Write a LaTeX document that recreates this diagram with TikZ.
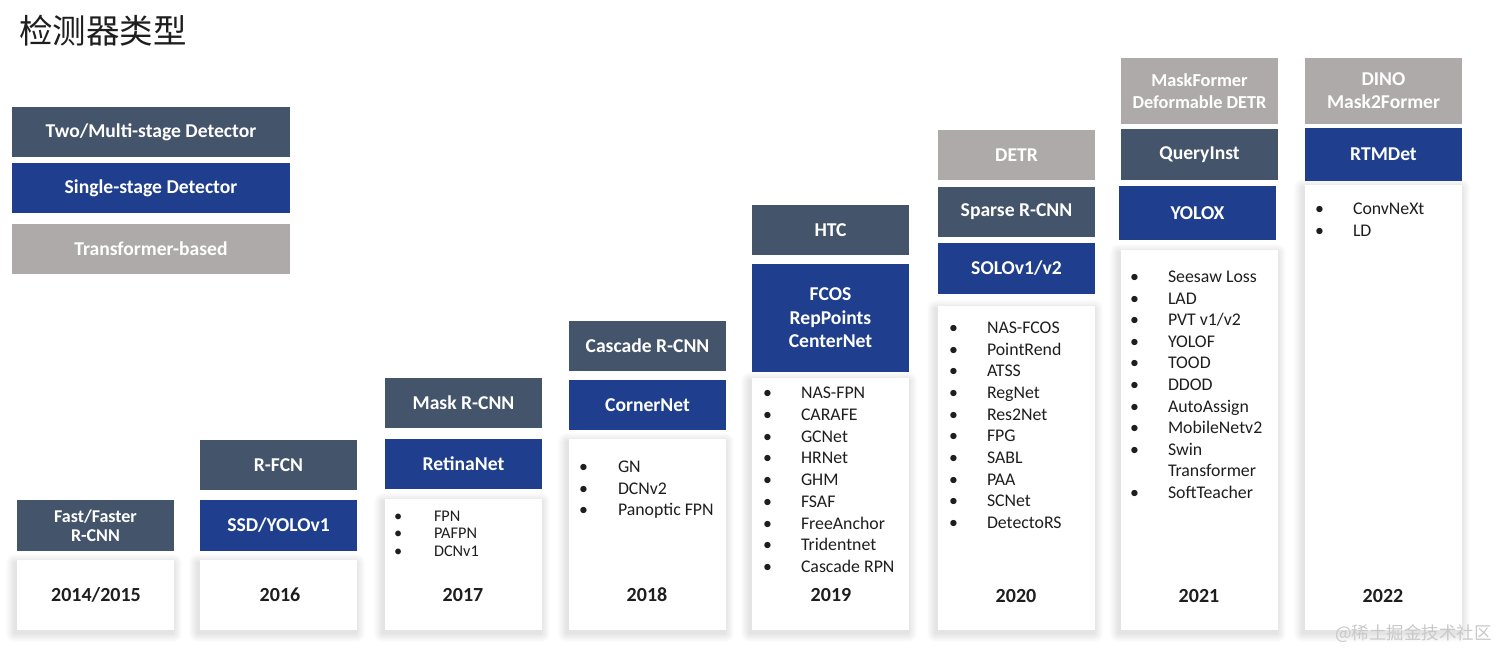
\documentclass[tikz,border=0pt]{standalone}
\usepackage{fontspec}
\setmainfont{Carlito}
\newfontfamily\cjk{Noto Sans CJK SC}
\pgfdeclarelayer{bg}
\pgfsetlayers{bg,main}
\definecolor{cdark}{HTML}{44546A}
\definecolor{cblue}{HTML}{1F3F8E}
\definecolor{cgray}{HTML}{AEAAAA}
\definecolor{cwm}{HTML}{C9C9C9}
\definecolor{ctext}{HTML}{1E1E1E}
\newcommand\mylist[7]{%
  \foreach \b/\t [count=\i] in {#7} {
    \ifnum\b=1 \node[itemtxt,#6] (#1b\i) at (#2, {#4+(\i-1)*#5}) {•};\fi
    \node[itemtxt,#6] (#1t\i) at (#3, {#4+(\i-1)*#5}) {\t};
  }}
\newcommand\mysoftshadow[1]{%
  \begin{pgfonlayer}{bg}
  \foreach \k in {1,...,9} {
    \fill[black, fill opacity=0.011, rounded corners=\k pt]
      ([xshift={-\k pt-2pt}, yshift={\k pt-3pt}]#1.north west) rectangle
      ([xshift={\k pt-1pt}, yshift={-\k pt-3pt}]#1.south east);
  }
  \end{pgfonlayer}}
\begin{document}
\begin{tikzpicture}[x=1pt,y=-1pt,
  box/.style={inner sep=0pt, outer sep=0pt, anchor=north west, text=white, align=center,
    font=\fontsize{19.6}{23}\selectfont\bfseries, minimum width=157pt},
  darkbox/.style={box, fill=cdark},
  bluebox/.style={box, fill=cblue},
  graybox/.style={box, fill=cgray},
  card/.style={fill=white, inner sep=0pt, outer sep=0pt, anchor=north west, minimum width=157pt},
  year/.style={font=\fontsize{20}{23}\selectfont\bfseries, text=ctext},
  itemtxt/.style={inner sep=0pt, outer sep=0pt, anchor=base west, text=ctext},
  itemA/.style={font=\fontsize{17.8}{21}\selectfont},
  itemB/.style={font=\fontsize{16.3}{18}\selectfont}]
\begin{pgfonlayer}{bg}
\fill[white] (0,0) rectangle (1512,664);
\end{pgfonlayer}
\useasboundingbox (0,0) rectangle (1512,664);

\node[anchor=west, inner sep=0pt, font=\fontsize{33.5}{38}\selectfont\cjk, text=ctext] (title) at (19,31) {检测器类型};

% legend
\node[darkbox, minimum width=278pt, minimum height=50pt] (lg1) at (12,107) {Two/Multi-stage Detector};
\node[bluebox, minimum width=278pt, minimum height=50pt] (lg2) at (12,163) {Single-stage Detector};
\node[graybox, minimum width=278pt, minimum height=50pt] (lg3) at (12,224) {Transformer-based};

% cards
\node[card, minimum height=70pt] (k1) at (17,560) {};
\node[card, minimum height=70pt] (k2) at (200,560) {};
\node[card, minimum height=131pt] (k3) at (385,499) {};
\node[card, minimum height=191pt] (k4) at (569,439) {};
\node[card, minimum height=252pt] (k5) at (752,378) {};
\node[card, minimum height=324pt] (k6) at (938,306) {};
\node[card, minimum height=380pt] (k7) at (1121,250) {};
\node[card, minimum height=445pt] (k8) at (1305,185) {};
\foreach \c in {k1,k2,k3,k4,k5,k6,k7,k8} {\mysoftshadow{\c}}

% column 1
\node[darkbox, minimum height=51pt, font=\fontsize{18}{19}\selectfont\bfseries] (a1) at (17,500) {Fast/Faster\\R-CNN};
% column 2
\node[darkbox, minimum height=50pt] (a2) at (200,440) {R-FCN};
\node[bluebox, minimum height=51pt] (b2) at (200,500) {SSD/YOLOv1};
% column 3
\node[darkbox, minimum height=50pt] (a3) at (385,378) {Mask R-CNN};
\node[bluebox, minimum height=50pt] (b3) at (385,439) {RetinaNet};
% column 4
\node[darkbox, minimum height=50pt] (a4) at (569,321) {Cascade R-CNN};
\node[bluebox, minimum height=50pt] (b4) at (569,380) {CornerNet};
% column 5
\node[darkbox, minimum height=50pt] (a5) at (752,205) {HTC};
\node[bluebox, minimum height=108pt, font=\fontsize{19.6}{23.5}\selectfont\bfseries] (b5) at (752,264) {FCOS\\RepPoints\\CenterNet};
% column 6
\node[graybox, minimum height=50pt] (t6) at (938,130) {DETR};
\node[darkbox, minimum height=50pt] (a6) at (938,187) {Sparse R-CNN};
\node[bluebox, minimum height=51pt] (b6) at (938,243) {SOLOv1/v2};
% column 7
\node[graybox, minimum height=66pt, font=\fontsize{18.3}{22}\selectfont\bfseries] (t7) at (1121,58) {MaskFormer\\Deformable DETR};
\node[darkbox, minimum height=51pt] (a7) at (1121,129) {QueryInst};
\node[bluebox, minimum height=54pt] (b7) at (1119,186) {YOLOX};
% column 8
\node[graybox, minimum height=66pt, font=\fontsize{19.6}{23}\selectfont\bfseries] (t8) at (1305,58) {DINO\\Mask2Former};
\node[bluebox, minimum height=53pt] (b8) at (1305,128) {RTMDet};

% item lists
\mylist{c3}{394}{434}{521}{17.5}{itemB}{1/FPN,1/PAFPN,1/DCNv1}
\mylist{c4}{579}{618}{472.5}{21.5}{itemA}{1/GN,1/DCNv2,1/Panoptic FPN}
\mylist{c5}{763}{801}{398.5}{21.75}{itemA}{1/NAS-FPN,1/CARAFE,1/GCNet,1/HRNet,1/GHM,1/FSAF,1/FreeAnchor,1/Tridentnet,1/Cascade RPN}
\mylist{c6}{949}{987}{333.5}{21.67}{itemA}{1/NAS-FCOS,1/PointRend,1/ATSS,1/RegNet,1/Res2Net,1/FPG,1/SABL,1/PAA,1/SCNet,1/DetectoRS}
\mylist{c7}{1130}{1168}{282.5}{21.6}{itemA}{1/Seesaw Loss,1/LAD,1/{PVT v1/v2},1/YOLOF,1/TOOD,1/DDOD,1/AutoAssign,1/MobileNetv2,1/Swin,0/Transformer,1/SoftTeacher}
\mylist{c8}{1315}{1353}{214.5}{22}{itemA}{1/ConvNeXt,1/LD}

% years
\node[year] (y1) at (96,595) {2014/2015};
\node[year] (y2) at (280,595) {2016};
\node[year] (y3) at (463,595) {2017};
\node[year] (y4) at (647,595) {2018};
\node[year] (y5) at (831,595) {2019};
\node[year] (y6) at (1016,596) {2020};
\node[year] (y7) at (1199,596) {2021};
\node[year] (y8) at (1383,596) {2022};

% watermark
\node[anchor=east, inner sep=0pt, text=cwm, font=\fontsize{17.5}{20}\selectfont\cjk] (wm) at (1492,634) {@稀土掘金技术社区};
\end{tikzpicture}
\end{document}
